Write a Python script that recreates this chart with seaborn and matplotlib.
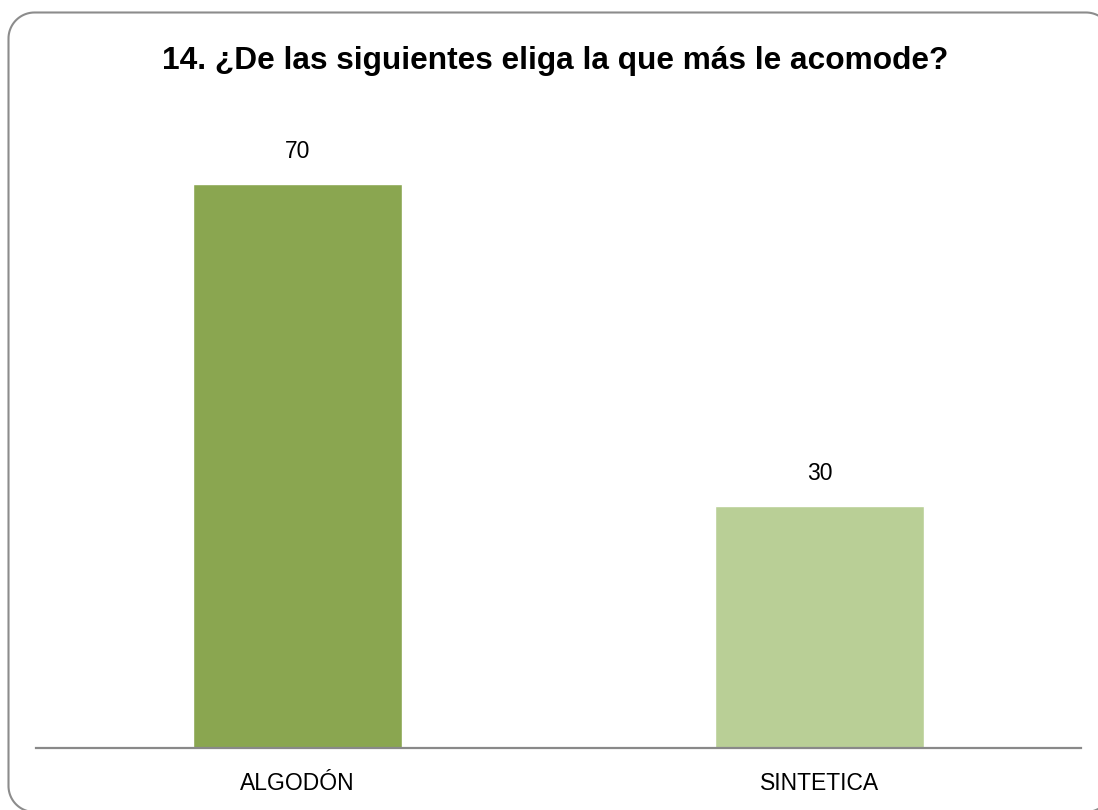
import matplotlib
matplotlib.use("Agg")
import matplotlib.pyplot as plt
from matplotlib.path import Path
from matplotlib.patches import PathPatch
import numpy as np
import seaborn as sns
import pandas as pd

categories = ["ALGODÓN", "SINTETICA"]
values = [70, 30]
colors = ["#8AA650", "#B9CF96"]
title = "14. ¿De las siguientes eliga la que más le acomode?"

sns.set_theme(style="white")
label_font = ["Liberation Sans", "DejaVu Sans"]

W, H = 1098, 810
fig = plt.figure(figsize=(W / 100, H / 100), dpi=100)
fig.patch.set_facecolor("white")


def frame_path(x0, y0, x1, y1, r, n=24):
    """Rounded rectangle outline in figure pixels (y measured from the top)."""
    pts = []
    corners = [(x0 + r, y0 + r, 180, 270), (x1 - r, y0 + r, 270, 360),
               (x1 - r, y1 - r, 0, 90), (x0 + r, y1 - r, 90, 180)]
    for cx, cy, a0, a1 in corners:
        for a in np.linspace(np.radians(a0), np.radians(a1), n):
            pts.append((cx + r * np.cos(a), cy + r * np.sin(a)))
    pts.append(pts[0])
    pts = np.array(pts)
    pts[:, 0] /= W
    pts[:, 1] = 1 - pts[:, 1] / H
    return Path(pts)


# rounded frame; its right and bottom sides run just past the canvas
frame = PathPatch(frame_path(8.5, 12.5, 1112, 812, 26), transform=fig.transFigure,
                  facecolor="none", edgecolor="#8C8C8C", linewidth=1.5)
fig.patches.append(frame)

ax_left, ax_right = 36 / W, 1081 / W
ax_bottom = (H - 748) / H
ax_top = (H - 103.4) / H
ax = fig.add_axes([ax_left, ax_bottom, ax_right - ax_left, ax_top - ax_bottom])
ax.set_facecolor("none")

df = pd.DataFrame({"cat": categories, "val": values})
sns.barplot(data=df, x="cat", y="val", hue="cat", palette=colors,
            width=0.4, legend=False, ax=ax, saturation=1)

ax.set_xlim(-0.5, 1.5)
ax.set_ylim(0, 80)
ax.set_xlabel("")
ax.set_ylabel("")
ax.set_yticks([])
for s in ["top", "left", "right"]:
    ax.spines[s].set_visible(False)
ax.spines["bottom"].set_color("#898989")
ax.spines["bottom"].set_linewidth(1.6)
ax.tick_params(axis="x", length=0, pad=17)
for lbl in ax.get_xticklabels():
    lbl.set_fontfamily(label_font)
    lbl.set_fontsize(16.5)
    lbl.set_color("black")

for i, v in enumerate(values):
    ax.annotate(str(v), (i, v), xytext=(0, 15), textcoords="offset points",
                ha="center", va="bottom", fontsize=16.5, family=label_font, color="black")

fig.text(555 / W, (H - 61) / H, title, ha="center", va="center",
         fontsize=22.8, fontweight="bold", family=["Liberation Sans", "DejaVu Sans"],
         color="black")

fig.savefig("out.png", dpi=100)
